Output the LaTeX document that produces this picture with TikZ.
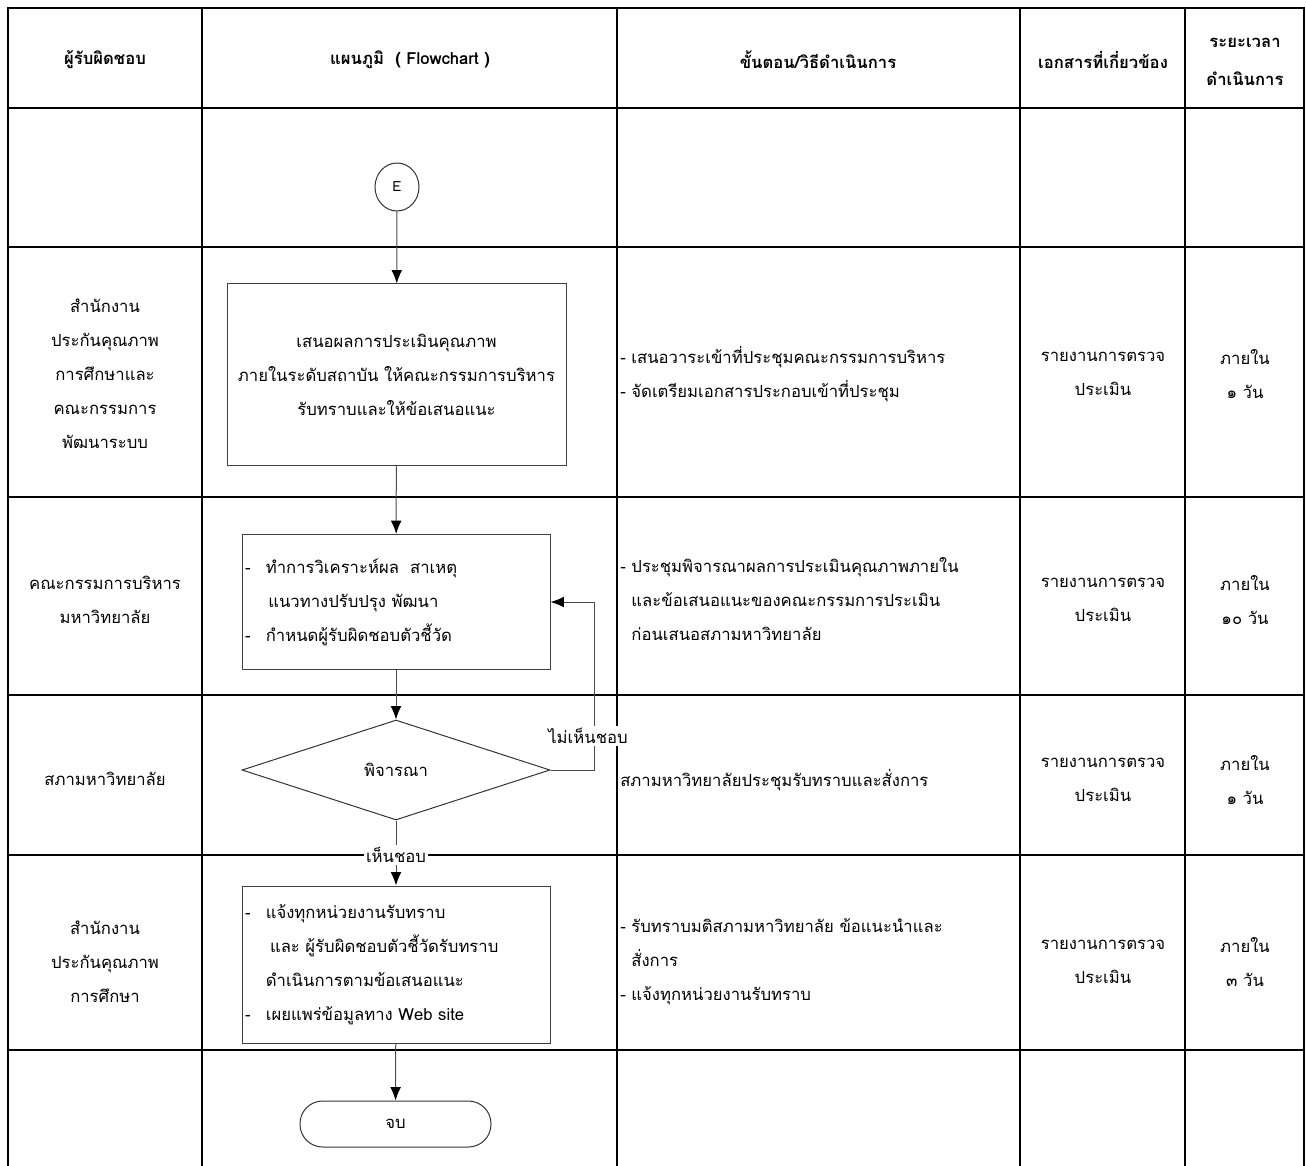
\documentclass[tikz,border=0pt]{standalone}
\usepackage{fontspec}
\setmainfont{Loma}[Script=Thai]
\usetikzlibrary{shapes.geometric,arrows.meta}

\newlength{\unitpx}
\setlength{\unitpx}{0.75pt}
\newcommand{\itemdash}{\makebox[1.25em][l]{-}}
\newcommand{\bodyfont}{\fontsize{12.5}{25.5}\selectfont}

\begin{document}
\begin{tikzpicture}[
    x=0.75pt,y=-0.75pt,
    >={Latex[length=10pt,width=8pt,color=black]},
    colline/.style={line width=1.5pt, draw=black},
    rowline/.style={line width=2.2pt, draw=black},
    head/.style={
        font=\fontsize{12.5}{28}\selectfont\bfseries,
        align=center,
        inner sep=0pt
    },
    cell/.style={
        font=\bodyfont,
        align=center,
        inner sep=0pt
    },
    stepcell/.style={
        font=\bodyfont,
        align=left,
        anchor=west,
        inner sep=0pt
    },
    proc/.style={
        draw=black!75,
        line width=0.75pt,
        font=\bodyfont,
        align=center,
        inner sep=0pt
    },
    listbox/.style={
        proc,
        align=left,
        text width=302\unitpx,
        inner xsep=3\unitpx,
        minimum width=308\unitpx
    },
    decide/.style={
        diamond,
        draw=black!80,
        line width=0.75pt,
        minimum width=308\unitpx,
        minimum height=100\unitpx,
        inner sep=0pt,
        font=\bodyfont
    },
    term/.style={
        rounded corners=17pt,
        draw=black!80,
        line width=0.75pt,
        minimum width=191\unitpx,
        minimum height=46\unitpx,
        font=\bodyfont
    },
    conn/.style={
        ellipse,
        draw=black!80,
        line width=0.75pt,
        minimum width=44\unitpx,
        minimum height=48\unitpx,
        inner sep=0pt,
        font=\fontsize{10.5}{12}\selectfont
    },
    arr/.style={->, draw=black!70, line width=0.75pt},
    answer/.style={fill=white, inner sep=1.5pt, font=\bodyfont}
]
    \useasboundingbox (0,0) rectangle (1306,1166);

    % table
    \draw[colline] (8,1166) -- (8,8) -- (1304,8) -- (1304,1166);
    \draw[colline] (202,8) -- (202,1166);
    \draw[colline] (617,8) -- (617,1166);
    \draw[colline] (1020,8) -- (1020,1166);
    \draw[colline] (1185,8) -- (1185,1166);
    \draw[rowline] (8,108) -- (1304,108);
    \draw[rowline] (8,247) -- (1304,247);
    \draw[rowline] (8,497) -- (1304,497);
    \draw[rowline] (8,695) -- (1304,695);
    \draw[rowline] (8,855) -- (1304,855);
    \draw[rowline] (8,1050) -- (1304,1050);

    % header
    \node[head] (hResp) at (105,60) {ผู้รับผิดชอบ};
    \node[head] (hChart) at (410,60) {แผนภูมิ\ \ ( Flowchart )};
    \node[head] (hStep) at (818,60) {ขั้นตอน/วิธีดำเนินการ};
    \node[head] (hDoc) at (1103,60) {เอกสารที่เกี่ยวข้อง};
    \node[head] (hTime) at (1245,62) {ระยะเวลา\\ดำเนินการ};

    % responsible units
    \node[cell] (r2) at (105,374) {สำนักงาน\\ประกันคุณภาพ\\การศึกษาและ\\คณะกรรมการ\\พัฒนาระบบ};
    \node[cell] (r3) at (105,600) {คณะกรรมการบริหาร\\มหาวิทยาลัย};
    \node[cell] (r4) at (105,779) {สภามหาวิทยาลัย};
    \node[cell] (r5) at (105,962) {สำนักงาน\\ประกันคุณภาพ\\การศึกษา};

    % flowchart
    \node[conn] (E) at (397,187) {E};
    \node[proc, minimum width=339\unitpx, minimum height=181\unitpx] (present) at (396.5,374.5)
        {เสนอผลการประเมินคุณภาพ\\ภายในระดับสถาบัน ให้คณะกรรมการบริหาร\\รับทราบและให้ข้อเสนอแนะ};
    \node[listbox, minimum height=135\unitpx] (analyse) at (396,602)
        {\itemdash ทำการวิเคราะห์ผล\ \ สาเหตุ\\
         \hspace*{1.4em}แนวทางปรับปรุง พัฒนา\\
         \itemdash กำหนดผู้รับผิดชอบตัวชี้วัด};
    \node[decide] (decide) at (396,770) {พิจารณา};
    \node[listbox, minimum height=157\unitpx] (inform) at (396,964.5)
        {\itemdash แจ้งทุกหน่วยงานรับทราบ\\
         \hspace*{1.5em}และ ผู้รับผิดชอบตัวชี้วัดรับทราบ\\
         \hspace*{1.25em}ดำเนินการตามข้อเสนอแนะ\\
         \itemdash เผยแพร่ข้อมูลทาง Web site};
    \node[term] (end) at (395.5,1124) {จบ};

    \draw[arr] (E) -- (present);
    \draw[arr] (present) -- (analyse);
    \draw[arr] (analyse) -- (decide);
    \draw[arr] (decide) -- (inform);
    \draw[arr] (inform) -- (end);
    \draw[arr] (decide.east) -- ++(44,0) |- (analyse.east);

    \node[answer] (no) at (588,736) {ไม่เห็นชอบ};
    \node[answer] (yes) at (396,855) {เห็นชอบ};

    % steps
    \node[stepcell] (s2) at (620,374) {- เสนอวาระเข้าที่ประชุมคณะกรรมการบริหาร\\- จัดเตรียมเอกสารประกอบเข้าที่ประชุม};
    \node[stepcell] (s3) at (620,599) {- ประชุมพิจารณาผลการประเมินคุณภาพภายใน\\\phantom{- }และข้อเสนอแนะของคณะกรรมการประเมิน\\\phantom{- }ก่อนเสนอสภามหาวิทยาลัย};
    \node[stepcell] (s4) at (620,780) {สภามหาวิทยาลัยประชุมรับทราบและสั่งการ};
    \node[stepcell] (s5) at (620,962) {- รับทราบมติสภามหาวิทยาลัย ข้อแนะนำและ\\\phantom{- }สั่งการ\\- แจ้งทุกหน่วยงานรับทราบ};

    % documents
    \node[cell] (d2) at (1103,374) {รายงานการตรวจ\\ประเมิน};
    \node[cell] (d3) at (1103,600) {รายงานการตรวจ\\ประเมิน};
    \node[cell] (d4) at (1103,780) {รายงานการตรวจ\\ประเมิน};
    \node[cell] (d5) at (1103,962) {รายงานการตรวจ\\ประเมิน};

    % time
    \node[cell] (t2) at (1245,374) {ภายใน\\๑ วัน};
    \node[cell] (t3) at (1245,600) {ภายใน\\๑๐ วัน};
    \node[cell] (t4) at (1245,780) {ภายใน\\๑ วัน};
    \node[cell] (t5) at (1245,962) {ภายใน\\๓ วัน};

\end{tikzpicture}
\end{document}
